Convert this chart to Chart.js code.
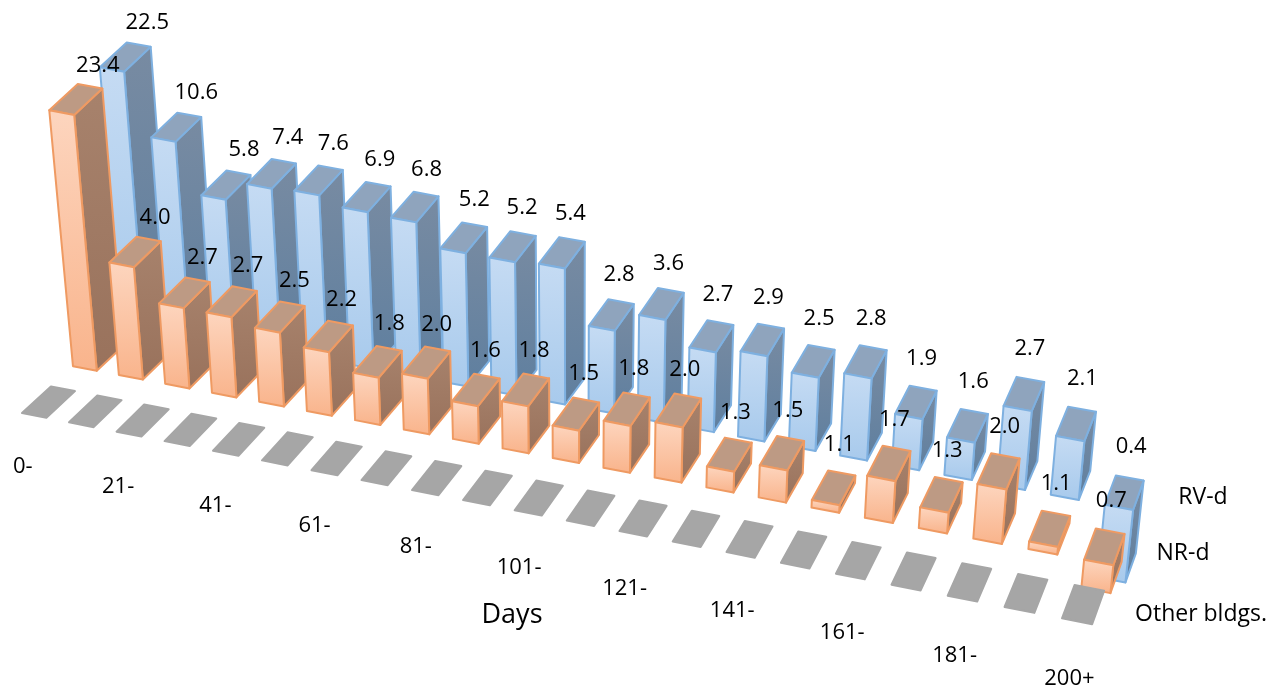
<!DOCTYPE html>
<html lang="en">
<head>
<meta charset="UTF-8">
<title>Days by building type</title>
<script src="https://cdn.jsdelivr.net/npm/chart.js"></script>
<style>
  html, body { margin: 0; background: #fff; overflow: hidden; }
  #wrap { width: 1284px; height: 691px; }
</style>
</head>
<body>
<div id="wrap"><canvas id="chart" width="1284" height="691"></canvas></div>
<script>
// every second bin carries a label on the axis
var categories = ['0-', '', '21-', '', '41-', '', '61-', '', '81-', '', '101-', '', '121-', '', '141-', '', '161-', '', '181-', '', '200+'];
var seriesNames = ['Other bldgs.', 'NR-d', 'RV-d'];
var otherValues = [1, 1, 1, 1, 1, 1, 1, 1, 1, 1, 1, 1, 1, 1, 1, 1, 1, 1, 1, 1, 1];
var nrValues = [23.4, 4.0, 2.7, 2.7, 2.5, 2.2, 1.8, 2.0, 1.6, 1.8, 1.5, 1.8, 2.0, 1.3, 1.5, 1.1, 1.7, 1.3, 2.0, 1.1, 0.7];
var rvValues = [22.5, 10.6, 5.8, 7.4, 7.6, 6.9, 6.8, 5.2, 5.2, 5.4, 2.8, 3.6, 2.7, 2.9, 2.5, 2.8, 1.9, 1.6, 2.7, 2.1, 0.4];
var axisTitle = 'Days';

var FONT = '"Open Sans", sans-serif';

var palette = [
  { top: '#a6a6a6', flat: true },
  { top: '#bd9a84', sideA: '#a7826c', sideB: '#99725c', frontA: '#fdd5be', frontB: '#f9b48c', line: '#ef9a62' },
  { top: '#8fa4bd', sideA: '#788ba2', sideB: '#5f7f9f', frontA: '#c5dbf3', frontB: '#a8caec', line: '#7eb0e0' }
];

// ground plane -> screen, s along the bins, t across the series
function ground(s, t) {
  var d = 1 - 0.1 * s + 0.06149 * t;
  return {
    x: (933.8 * s + 106.44 * t + 22) / d,
    y: (143.5 * s - 71.2 * t + 413) / d
  };
}

// lift a ground point, verticals converge far below the chart
function project(s, t, h) {
  var p = ground(s, t);
  return {
    x: p.x + (p.x - 575) * 0.0345 * h,
    y: p.y + (p.y - 5785) * 0.0345 * h
  };
}

function poly(ctx, pts, fill, line) {
  ctx.beginPath();
  pts.forEach(function (p, n) {
    if (n === 0) ctx.moveTo(p.x, p.y); else ctx.lineTo(p.x, p.y);
  });
  ctx.closePath();
  ctx.fillStyle = fill;
  ctx.fill();
  if (line) {
    ctx.strokeStyle = line;
    ctx.lineWidth = 2;
    ctx.lineJoin = 'round';
    ctx.stroke();
  }
}

function shade(ctx, a, b, c0, c1) {
  var g = ctx.createLinearGradient(0, a, 0, b);
  g.addColorStop(0, c0);
  g.addColorStop(1, c1);
  return g;
}

var BAR_W = 0.52, BAR_D = 0.56;

var box3d = {
  id: 'box3d',
  beforeDatasetsDraw: function (chart) {
    var ctx = chart.ctx;
    var xs = chart.scales.x, ys = chart.scales.y;
    var x0 = xs.getPixelForValue(0), x1 = xs.getPixelForValue(categories.length - 1);
    var step = xs.getPixelForValue(1) - x0;
    var decade = ys.getPixelForValue(1) - ys.getPixelForValue(10);
    var toS = function (i, off) { return (xs.getPixelForValue(i) + off * step - x0) / (x1 - x0); };
    var toH = function (v) { return (ys.getPixelForValue(1) - ys.getPixelForValue(v)) / decade; };
    var labels = [];

    // back series first, then left to right
    for (var w = chart.data.datasets.length - 1; w >= 0; w--) {
      var values = chart.data.datasets[w].data;
      var c = palette[w];
      values.forEach(function (v, i) {
        var sL = toS(i, 0), sR = toS(i, BAR_W);
        var tF = w / 2, tB = (w + BAR_D) / 2;
        var h = toH(v);
        var hi = Math.max(h, 0), lo = Math.min(h, 0);
        var fl = project(sL, tF, hi), fr = project(sR, tF, hi), br = project(sR, tB, hi), bl = project(sL, tB, hi);
        if (c.flat) {
          poly(ctx, [fl, fr, br, bl], c.top, c.top);
          return;
        }
        var flb = project(sL, tF, lo), frb = project(sR, tF, lo), brb = project(sR, tB, lo);
        poly(ctx, [fr, br, brb, frb], shade(ctx, br.y, frb.y, c.sideA, c.sideB), c.line);
        poly(ctx, [fl, fr, br, bl], c.top, c.line);
        poly(ctx, [fl, fr, frb, flb], shade(ctx, fl.y, frb.y, c.frontA, c.frontB), c.line);

        // value sits above the top face, drifting inward towards the right
        var cx = (fl.x + br.x) / 2, cy = (fl.y + br.y) / 2;
        labels.push({ x: cx + 22 - 42 * sL + 27 * sL * sL, y: cy - 34 - 12 * sL, text: v.toFixed(1) });
      });
    }

    ctx.fillStyle = '#000';
    ctx.textAlign = 'center';
    ctx.textBaseline = 'middle';
    ctx.font = '22px ' + FONT;
    labels.forEach(function (l) { ctx.fillText(l.text, l.x, l.y); });

    // bin labels hang below the front row
    categories.forEach(function (name, i) {
      if (!name) return;
      var s = toS(i, BAR_W / 2);
      var p = project(s, BAR_D / 4, 0);
      ctx.fillText(name, p.x - 26 + 12 * s, p.y + 65 + 9 * s);
    });

    ctx.font = '23px ' + FONT;
    ctx.fillText(seriesNames[2], 1203, 497);
    ctx.fillText(seriesNames[1], 1183, 553);
    ctx.fillText(seriesNames[0], 1201, 614);

    ctx.font = '27px ' + FONT;
    ctx.fillText(axisTitle, 512, 615);

    return false;
  }
};

new Chart(document.getElementById('chart'), {
  type: 'bar',
  data: {
    labels: categories,
    datasets: [
      { label: seriesNames[0], data: otherValues },
      { label: seriesNames[1], data: nrValues },
      { label: seriesNames[2], data: rvValues }
    ]
  },
  options: {
    responsive: false,
    animation: false,
    scales: {
      x: { type: 'category', offset: false, display: false },
      y: { type: 'logarithmic', min: 0.1, max: 100, display: false }
    },
    plugins: { legend: { display: false }, tooltip: { enabled: false } }
  },
  plugins: [box3d]
});
</script>
</body>
</html>
